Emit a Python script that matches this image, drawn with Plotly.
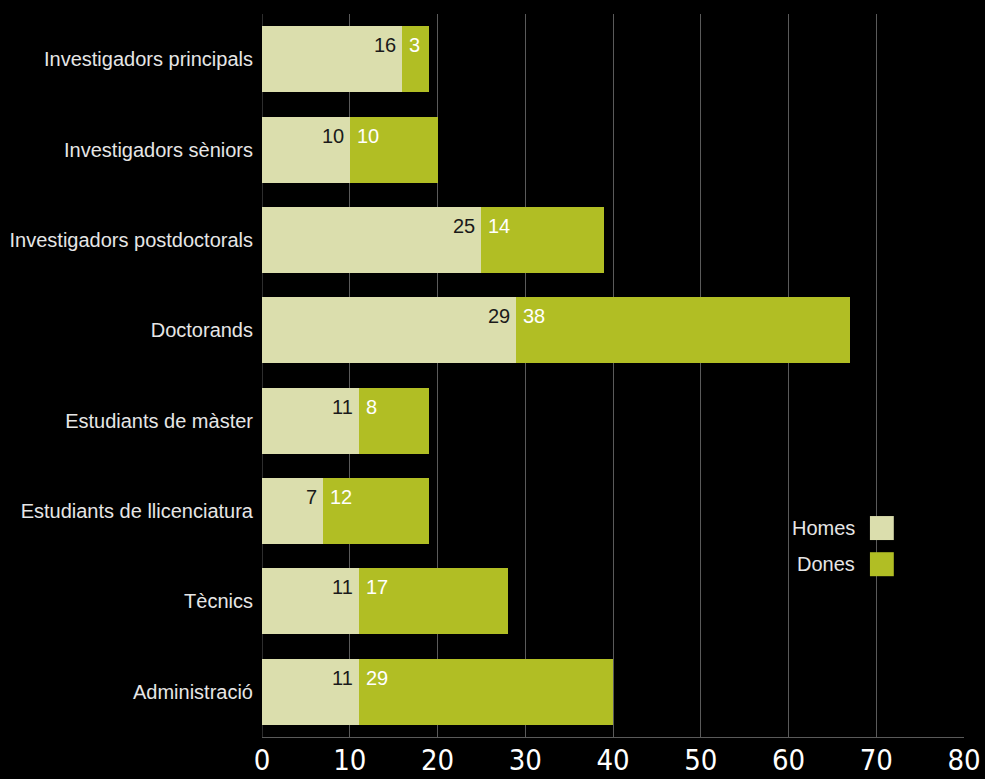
import plotly.graph_objects as go

categories = [
    "Investigadors principals",
    "Investigadors sèniors",
    "Investigadors postdoctorals",
    "Doctorands",
    "Estudiants de màster",
    "Estudiants de llicenciatura",
    "Tècnics",
    "Administració",
]
homes = [16, 10, 25, 29, 11, 7, 11, 11]
dones = [3, 10, 14, 38, 8, 12, 17, 29]
x_ticks = [0, 10, 20, 30, 40, 50, 60, 70, 80]

COL_HOMES = "#DBDEAD"
COL_DONES = "#B1BE24"
LABEL_FONT = "Liberation Sans"

fig = go.Figure()
fig.add_trace(go.Bar(y=categories, x=homes, orientation="h", name="Homes",
                     marker=dict(color=COL_HOMES, line=dict(width=0)), showlegend=False))
fig.add_trace(go.Bar(y=categories, x=dones, orientation="h", name="Dones",
                     marker=dict(color=COL_DONES, line=dict(width=0)), showlegend=False))

annotations = []
for cat, h, d in zip(categories, homes, dones):
    annotations.append(dict(x=h, y=cat, xref="x", yref="y", text=str(h),
                            showarrow=False, xanchor="right", yanchor="middle",
                            xshift=-4, yshift=14,
                            font=dict(family=LABEL_FONT, size=20, color="#1a1a1a")))
    annotations.append(dict(x=h, y=cat, xref="x", yref="y", text=str(d),
                            showarrow=False, xanchor="left", yanchor="middle",
                            xshift=5, yshift=14,
                            font=dict(family=LABEL_FONT, size=20, color="#ffffff")))

# manual legend: label text followed by a colour square
legend_items = [("Homes", COL_HOMES, 0.289), ("Dones", COL_DONES, 0.239)]
shapes = []
for name, col, yc in legend_items:
    annotations.append(dict(x=0.848, y=yc, xref="paper", yref="paper", text=name,
                            showarrow=False, xanchor="right", yanchor="middle",
                            font=dict(family=LABEL_FONT, size=20, color="#e6e6e6")))
    shapes.append(dict(type="rect", xref="paper", yref="paper",
                       x0=0.866, x1=0.900, y0=yc - 0.0166, y1=yc + 0.0166,
                       fillcolor=col, line=dict(width=0)))

fig.update_layout(
    barmode="stack",
    bargap=0.27,
    width=985, height=779,
    margin=dict(l=262, r=21, t=14, b=42),
    paper_bgcolor="#000000",
    plot_bgcolor="#000000",
    annotations=annotations,
    shapes=shapes,
    xaxis=dict(range=[0, 80], tickvals=x_ticks, ticktext=[str(v) for v in x_ticks],
               showgrid=True, gridcolor="#5a5a5a", gridwidth=1,
               zeroline=False, showline=True, linecolor="#5a5a5a", linewidth=1,
               tickfont=dict(family="DejaVu Sans Condensed", size=29, color="#ffffff"),
               ticks="", ticklabelstandoff=-3, automargin=False, fixedrange=True),
    yaxis=dict(categoryorder="array", categoryarray=categories[::-1],
               showgrid=False, zeroline=False, showline=False, ticks="",
               ticklabelstandoff=8, automargin=False,
               tickfont=dict(family=LABEL_FONT, size=20, color="#e6e6e6")),
)
fig.add_shape(type="line", xref="x", yref="paper", x0=0, x1=0, y0=0, y1=1,
              line=dict(color="#5a5a5a", width=1), layer="below")

fig.write_html("out.html")
